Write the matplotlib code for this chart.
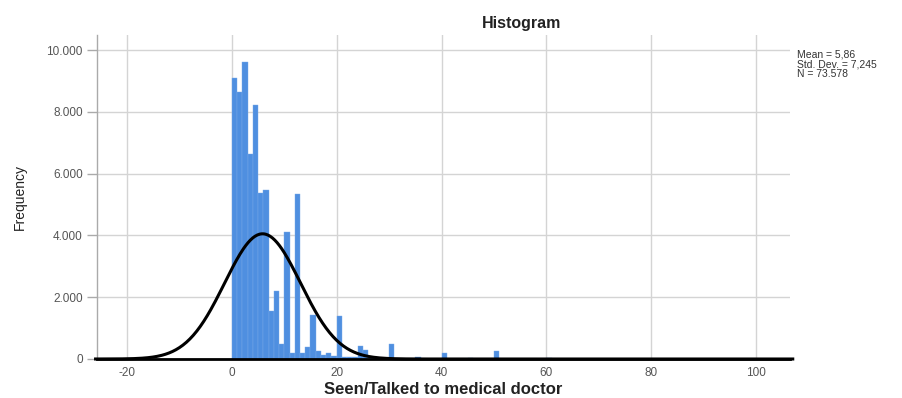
import numpy as np
import matplotlib.pyplot as plt

plt.rcParams["font.family"] = ["Liberation Sans", "DejaVu Sans"]

# Frequency per unit-wide bin (left edge of bin, count)
bin_left = [0, 1, 2, 3, 4, 5, 6, 7, 8, 9, 10, 11, 12, 13, 14, 15, 16, 17, 18, 19,
            20, 21, 22, 23, 24, 25, 26, 27, 28, 29, 30, 35, 40, 45, 50, 60]
counts = [9100, 8650, 9600, 6620, 8220, 5380, 5470, 1550, 2210, 500,
          4100, 190, 5350, 200, 390, 1420, 270, 130, 190, 100,
          1400, 60, 80, 50, 420, 290, 40, 30, 40, 20, 490, 60, 190, 40, 260, 30]

mean_val = 5.86
std_val = 7.245
n_val = 73578

y_ticks = [0, 2000, 4000, 6000, 8000, 10000]
y_tick_labels = ["0", "2.000", "4.000", "6.000", "8.000", "10.000"]
x_ticks = [-20, 0, 20, 40, 60, 80, 100]

fig = plt.figure(figsize=(9.03, 3.98), dpi=100)
ax = fig.add_axes([0.107, 0.098, 0.768, 0.814])

ax.bar(bin_left, counts, width=1.0, align="edge", color="#4f8fe0",
       edgecolor="#7aaae8", linewidth=0.3, zorder=2)

# normal curve scaled to counts (bin width 1)
xs = np.linspace(-26, 107, 600)
curve = n_val * 1.0 / (std_val * np.sqrt(2 * np.pi)) * np.exp(-0.5 * ((xs - mean_val) / std_val) ** 2)
ax.plot(xs, curve, color="black", linewidth=2.2, zorder=4, clip_on=False)

ax.set_xlim(-25.8, 106.5)
ax.set_ylim(0, 10485)
ax.set_xticks(x_ticks)
ax.set_xticklabels([str(v) for v in x_ticks])
ax.set_yticks(y_ticks)
ax.set_yticklabels(y_tick_labels)

ax.grid(True, color="#d4d4d4", linewidth=1.0, zorder=0)
ax.set_axisbelow(True)

for side in ["top", "right"]:
    ax.spines[side].set_visible(False)
ax.spines["left"].set_color("#aaaaaa")
ax.spines["left"].set_linewidth(1.0)
ax.spines["bottom"].set_color("black")
ax.spines["bottom"].set_linewidth(2.0)

ax.tick_params(axis="y", length=7, width=1, color="#aaaaaa", labelcolor="#555555",
               labelsize=8.5, pad=3)
ax.tick_params(axis="x", length=0, labelcolor="#555555", labelsize=8.5, pad=6)

ax.set_xlabel("Seen/Talked to medical doctor", fontsize=12, fontweight="bold",
              color="#222222", labelpad=2)
ax.set_ylabel("Frequency", fontsize=10, color="#222222", labelpad=14)

fig.text(0.578, 0.942, "Histogram", ha="center", va="center",
         fontsize=11.5, fontweight="bold", color="#222222")

stats = "Mean = 5,86\nStd. Dev. = 7,245\nN = 73.578"
fig.text(0.883, 0.875, stats, ha="left", va="top", fontsize=7.5,
         color="#333333", linespacing=0.95)

fig.savefig("out.png", dpi=100)
